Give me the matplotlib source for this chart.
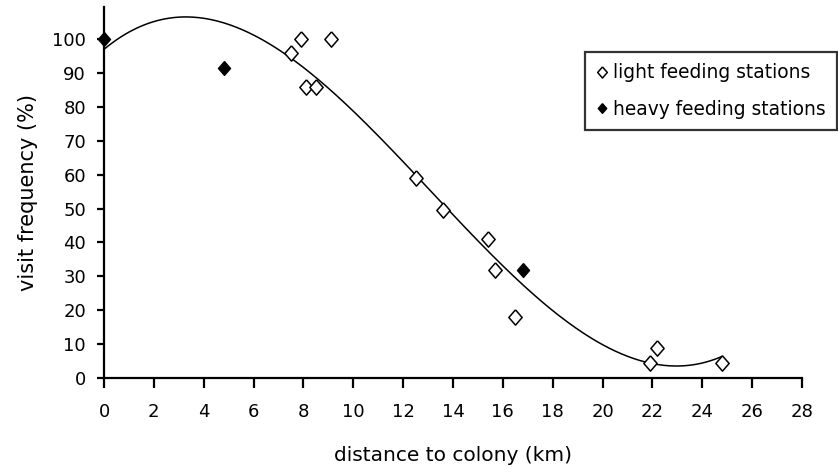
import numpy as np
import matplotlib
matplotlib.use("Agg")
import matplotlib.pyplot as plt
from matplotlib.lines import Line2D

plt.rcParams['font.family'] = ['DejaVu Sans']

# station observations: distance to colony (km) vs visit frequency (%)
light_x = [7.5, 7.9, 8.1, 8.5, 9.1, 12.5, 13.6, 15.4, 15.7, 16.5, 21.9, 22.2, 24.8]
light_y = [96, 100, 86, 86, 100, 59, 49.5, 41, 32, 18, 4.5, 9, 4.5]
heavy_x = [0, 4.8, 16.8]
heavy_y = [100, 91.5, 32]

x_ticks = list(range(0, 29, 2))
y_ticks = list(range(0, 101, 10))

fig = plt.figure(figsize=(8.38, 4.72), dpi=100)
ax = fig.add_axes([104/838, 1-378/472, 698/838, 371/472])
ax.set_xlim(0, 28)
ax.set_ylim(0, 109.5)

# third-order polynomial trend through all stations
all_x = np.array(light_x + heavy_x)
all_y = np.array(light_y + heavy_y)
coef = np.polyfit(all_x, all_y, 3)
xs = np.linspace(0, max(all_x), 300)
ax.plot(xs, np.polyval(coef, xs), color='black', lw=1.1, zorder=2)

diamond = [(0, 1), (0.87, 0), (0, -1), (-0.87, 0), (0, 1)]
ax.plot(light_x, light_y, linestyle='none', marker=diamond, mfc='white',
        mec='black', ms=11, mew=1.1, zorder=3, clip_on=False)
ax.plot(heavy_x, heavy_y, linestyle='none', marker=diamond, color='black',
        ms=10, zorder=4, clip_on=False)

for side in ('top', 'right'):
    ax.spines[side].set_visible(False)
for side in ('left', 'bottom'):
    ax.spines[side].set_linewidth(1.6)
ax.set_xticks(x_ticks)
ax.set_yticks(y_ticks)
ax.tick_params(axis='both', direction='out', width=1.6, labelsize=13,
               colors='black')
ax.tick_params(axis='x', length=7, pad=11)
ax.tick_params(axis='y', length=5, pad=8)

ax.set_xlabel('distance to colony (km)', fontsize=14.5, labelpad=18)
ax.set_ylabel('visit frequency (%)', fontsize=15, labelpad=10)

handles = [
    Line2D([], [], linestyle='none', marker=diamond, mfc='white', mec='black',
           ms=8, mew=1.1),
    Line2D([], [], linestyle='none', marker=diamond, color='black', ms=7),
]
leg = ax.legend(handles, ['light feeding stations', 'heavy feeding stations'],
                loc='upper left', bbox_to_anchor=(585/838, 1-52/472),
                bbox_transform=fig.transFigure, fontsize=13.4, frameon=True,
                fancybox=False, handlelength=0.6, handletextpad=0.3,
                borderpad=0.6, labelspacing=0.95, borderaxespad=0)
leg.get_frame().set_edgecolor('black')
leg.get_frame().set_linewidth(1.6)

fig.savefig("out.png", dpi=100)
